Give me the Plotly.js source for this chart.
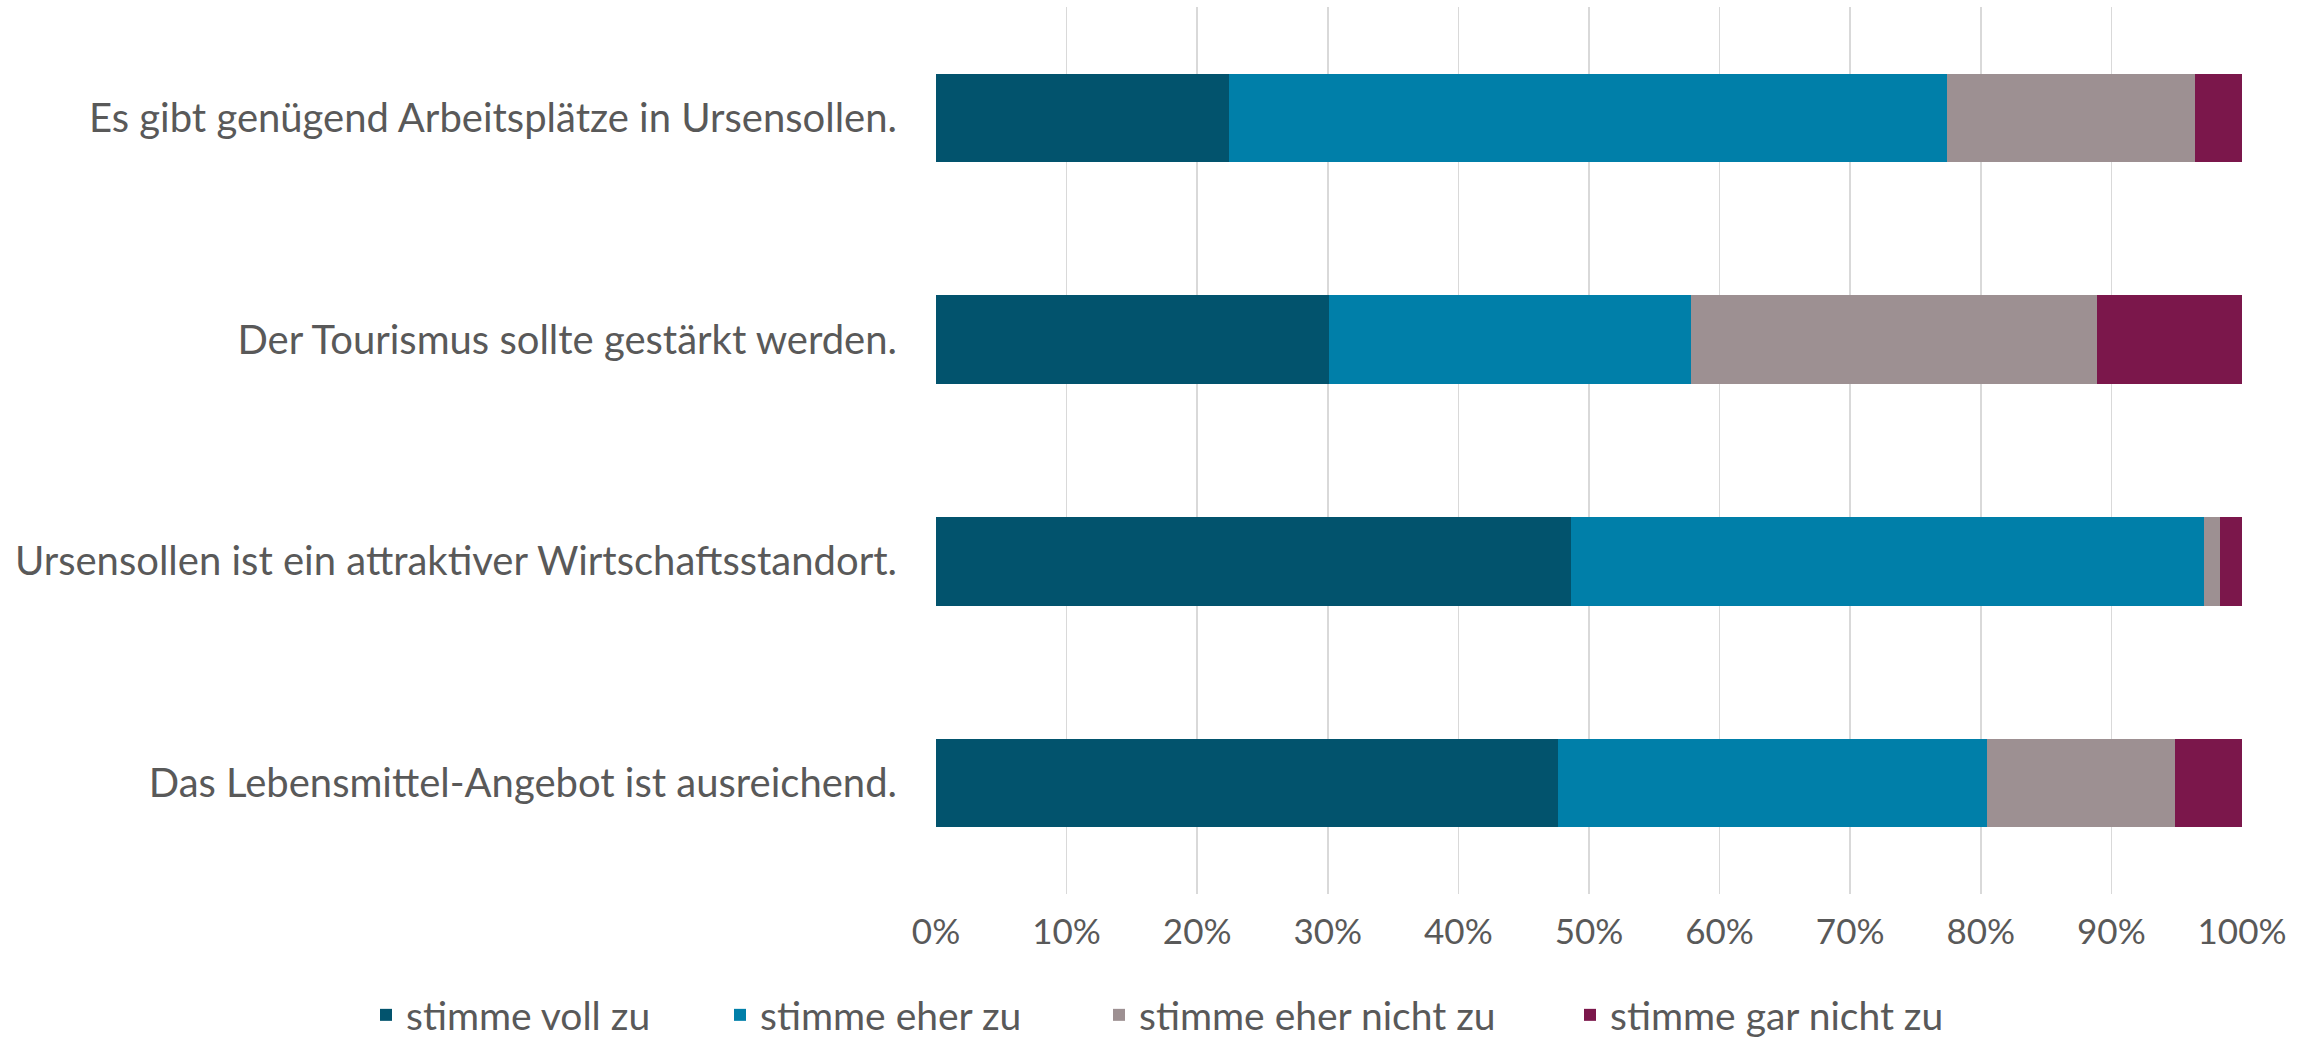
<!DOCTYPE html>
<html>
<head>
<meta charset="utf-8">
<script src="https://cdn.plot.ly/plotly-3.0.1.min.js"></script>
<style>html,body{margin:0;padding:0;background:#fff;}#chart{width:2316px;height:1044px;}</style>
</head>
<body>
<div id="chart"></div>
<script>
const categories = [
  "Es gibt genügend Arbeitsplätze in Ursensollen.",
  "Der Tourismus sollte gestärkt werden.",
  "Ursensollen ist ein attraktiver Wirtschaftsstandort.",
  "Das Lebensmittel-Angebot ist ausreichend."
];
const seriesNames = ["stimme voll zu", "stimme eher zu", "stimme eher nicht zu", "stimme gar nicht zu"];
const stimmeVollZu = [22.4, 30.1, 48.6, 47.6];
const stimmeEherZu = [55.0, 27.7, 48.5, 32.9];
const stimmeEherNichtZu = [19.0, 31.1, 1.2, 14.4];
const stimmeGarNichtZu = [3.6, 11.1, 1.7, 5.1];
const colors = ["#02536D", "#007FA9", "#9D9092", "#7B174B"];
const tickVals = [0, 10, 20, 30, 40, 50, 60, 70, 80, 90, 100];

const values = [stimmeVollZu, stimmeEherZu, stimmeEherNichtZu, stimmeGarNichtZu];
const font = "Lato, 'Open Sans', sans-serif";
const textColor = "#595959";

// plot area geometry (pixels)
const L = 936, R = 74, T = 7, B = 150, W = 2316, H = 1044;
const plotW = W - L - R, plotH = H - T - B;
const legendLeftPx = [366, 720, 1099, 1570];
const legendCenterYPx = 1015;
const legendNames = ["legend", "legend2", "legend3", "legend4"];

const traces = values.map((v, i) => ({
  type: "bar",
  orientation: "h",
  name: seriesNames[i],
  x: v,
  y: categories,
  marker: {color: colors[i], line: {width: 0}},
  legend: legendNames[i],
  hoverinfo: "x+name"
}));

const layout = {
  width: W,
  height: H,
  barmode: "stack",
  bargap: 0.6,
  paper_bgcolor: "#ffffff",
  plot_bgcolor: "#ffffff",
  margin: {l: L, r: R, t: T, b: B, autoexpand: false},
  font: {family: font, color: textColor, size: 40},
  xaxis: {
    range: [0, 100],
    tickvals: tickVals,
    ticktext: tickVals.map(t => t + "%"),
    showgrid: true,
    gridcolor: "#D9D9D9",
    gridwidth: 1.5,
    zeroline: false,
    showline: false,
    ticks: "outside",
    ticklen: 7,
    tickcolor: "rgba(0,0,0,0)",
    tickfont: {family: font, size: 35, color: textColor},
    fixedrange: true
  },
  yaxis: {
    type: "category",
    autorange: "reversed",
    showgrid: false,
    zeroline: false,
    showline: false,
    ticks: "outside",
    ticklen: 30,
    tickcolor: "rgba(0,0,0,0)",
    tickfont: {family: font, size: 40, color: textColor},
    fixedrange: true
  },
  showlegend: true
};

legendNames.forEach((ln, i) => {
  layout[ln] = {
    orientation: "h",
    x: (legendLeftPx[i] - L) / plotW,
    xanchor: "left",
    y: -(legendCenterYPx - (H - B)) / plotH,
    yanchor: "middle",
    font: {family: font, size: 39, color: textColor},
    itemwidth: 30,
    bgcolor: "rgba(0,0,0,0)"
  };
});

Plotly.newPlot("chart", traces, layout, {displayModeBar: false, staticPlot: true});
</script>
</body>
</html>
